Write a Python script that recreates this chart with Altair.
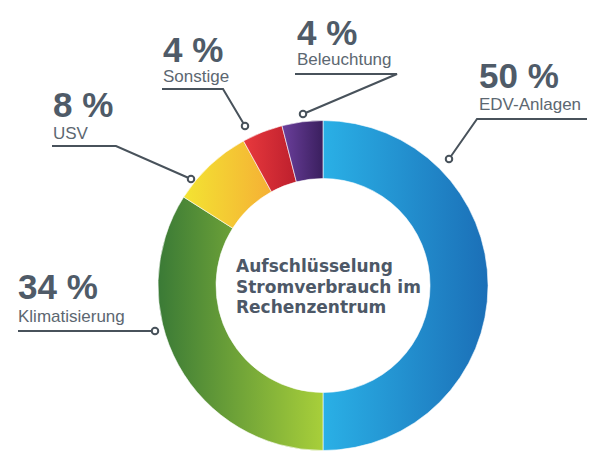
import altair as alt
import pandas as pd

# ---- data ----
categories = ["EDV-Anlagen", "Klimatisierung", "USV", "Sonstige", "Beleuchtung"]
values = [50, 34, 8, 4, 4]
pct_labels = ["50 %", "34 %", "8 %", "4 %", "4 %"]
center_lines = ["Aufschlüsselung", "Stromverbrauch im", "Rechenzentrum"]

# ---- styling / layout (not data) ----
W, H = 600, 471
CX, CY = 323, 285.5
R_OUT, R_IN = 165, 107

gradients = [
    ["#2AB0E6", "#1B6FB7"],   # EDV (blue)
    ["#3A7A36", "#A8CF3A"],   # Klima (green)
    ["#F3E432", "#F5B035"],   # USV (yellow->orange)
    ["#E8393D", "#BD1F2D"],   # Sonstige (red)
    ["#6B3F9C", "#3A1F5E"],   # Beleuchtung (purple)
]

# label anchor layout: (pct baseline x, pct baseline y, name baseline y, leader polyline)
label_layout = [
    (479, 88, 110, [(587, 119), (477, 119), (449, 159)]),
    (18, 299, 322, [(18, 331), (155, 331)]),
    (53, 117, 139, [(52, 146), (116, 146), (191, 179)]),
    (163, 62, 82, [(162, 89), (223, 89), (245, 126)]),
    (297, 45, 65, [(295, 74), (397, 74), (303, 114)]),
]
center_x, center_y0, center_dy = 236, 272, 20.5

TXT_DARK = "#4F5B68"
TXT_NAME = "#5C6771"
LINE_C = "#48525B"

df = pd.DataFrame({"cat": categories, "val": values, "ord": list(range(len(categories)))})

base = (
    alt.Chart(df)
    .transform_window(end="sum(val)", sort=[alt.SortField("ord")], frame=[None, 0])
    .transform_calculate(start="datum.end - datum.val")
)

arcs = []
for c, g in zip(categories, gradients):
    grad = alt.LinearGradient(
        gradient="linear",
        stops=[alt.GradientStop(color=g[0], offset=0), alt.GradientStop(color=g[1], offset=1)],
        x1=0, x2=1, y1=0, y2=0,
    )
    arcs.append(
        base.transform_filter(alt.datum.cat == c)
        .mark_arc(innerRadius=R_IN, outerRadius=R_OUT, fill=grad, stroke="white", strokeWidth=0.6)
        .encode(
            theta=alt.Theta("start:Q", scale=alt.Scale(domain=[0, 100])),
            theta2="end:Q",
            x=alt.value(CX),
            y=alt.value(CY),
        )
    )

xs = alt.Scale(domain=[0, W], range=[0, W])
ys = alt.Scale(domain=[0, H], range=[0, H])

pct_rows, name_rows, line_rows, dot_rows = [], [], [], []
for i, (c, p, lay) in enumerate(zip(categories, pct_labels, label_layout)):
    px, py, ny, pts = lay
    pct_rows.append({"x": px, "y": py, "t": p})
    name_rows.append({"x": px, "y": ny, "t": c})
    for j, (lx, ly) in enumerate(pts):
        line_rows.append({"g": c, "s": j, "x": lx, "y": ly})
    dot_rows.append({"x": pts[-1][0], "y": pts[-1][1]})

center_rows = [{"x": center_x, "y": center_y0 + k * center_dy, "t": t} for k, t in enumerate(center_lines)]

X = lambda: alt.X("x:Q", scale=xs, axis=None)
Y = lambda: alt.Y("y:Q", scale=ys, axis=None)

pct_text = alt.Chart(pd.DataFrame(pct_rows)).mark_text(
    align="left", baseline="alphabetic", font="Liberation Sans", fontSize=35,
    fontWeight="bold", color=TXT_DARK
).encode(x=X(), y=Y(), text="t:N")

name_text = alt.Chart(pd.DataFrame(name_rows)).mark_text(
    align="left", baseline="alphabetic", font="Liberation Sans", fontSize=17, color=TXT_NAME
).encode(x=X(), y=Y(), text="t:N")

leaders = alt.Chart(pd.DataFrame(line_rows)).mark_line(
    color=LINE_C, strokeWidth=2
).encode(x=X(), y=Y(), detail="g:N", order="s:Q")

dots = alt.Chart(pd.DataFrame(dot_rows)).mark_point(
    shape="circle", filled=True, fill="white", stroke=LINE_C, strokeWidth=2, size=42, opacity=1
).encode(x=X(), y=Y())

center_text = alt.Chart(pd.DataFrame(center_rows)).mark_text(
    align="left", baseline="alphabetic", font="DejaVu Sans", fontSize=17,
    fontWeight="bold", color="#4D5867"
).encode(x=X(), y=Y(), text="t:N")

chart = (
    alt.layer(*arcs, leaders, dots, pct_text, name_text, center_text)
    .properties(width=W, height=H, autosize="none", padding=0, background="white")
    .configure_view(stroke=None)
)

chart.save("out.html", embed_options={"renderer": "svg", "actions": False})
